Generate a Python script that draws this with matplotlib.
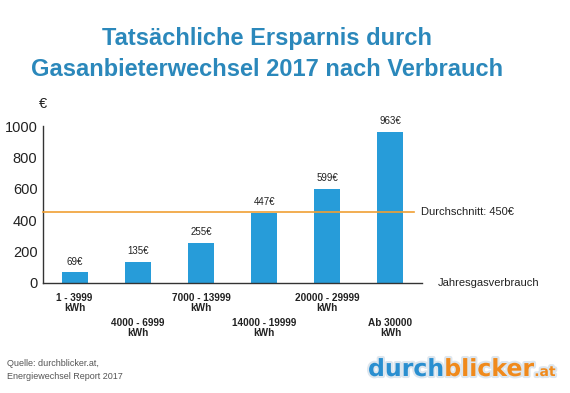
import matplotlib
matplotlib.use("Agg")
import matplotlib.pyplot as plt
import matplotlib.patheffects as pe

categories = ["1 - 3999\nkWh", "4000 - 6999\nkWh", "7000 - 13999\nkWh",
              "14000 - 19999\nkWh", "20000 - 29999\nkWh", "Ab 30000\nkWh"]
values = [69, 135, 255, 447, 599, 963]
value_labels = ["69€", "135€", "255€", "447€", "599€", "963€"]
average = 450
yticks = [0, 200, 400, 600, 800, 1000]

BLUE = "#279cd9"
ORANGE = "#f0a033"
TITLE = "#2b88bb"
DARK = "#222222"

fig = plt.figure(figsize=(5.7, 3.93), dpi=100)
fig.patch.set_facecolor("white")
W, H = 570, 393
ax = fig.add_axes([43 / W, 1 - 283 / H, (422 - 43) / W, (283 - 126) / H])

x = list(range(len(values)))
ax.bar(x, values, width=0.41, color=BLUE, zorder=2)
ax.set_xlim(-0.5, 5.5)
ax.set_ylim(0, 1000)
ax.set_yticks(yticks)
ax.set_yticklabels([str(v) for v in yticks], fontsize=10.5, family="Liberation Sans", color=DARK)
ax.tick_params(axis="y", length=0, pad=4)
ax.set_xticks([])
for s in ["top", "right"]:
    ax.spines[s].set_visible(False)
ax.spines["left"].set_color("#333333")
ax.spines["bottom"].set_color("#333333")
ax.spines["left"].set_linewidth(1.0)
ax.spines["bottom"].set_linewidth(1.0)

# average line
ax.plot([-0.5, 5.37], [average, average], color=ORANGE, lw=1.2, zorder=3, clip_on=False)
ax.text(5.48, average, "Durchschnitt: 450€", fontsize=8, family="Liberation Sans",
        color=DARK, va="center", ha="left")
ax.text(5.75, 0, "Jahresgasverbrauch", fontsize=8, family="Liberation Sans",
        color=DARK, va="center", ha="left")

for xi, v, lab in zip(x, values, value_labels):
    ax.annotate(lab, (xi, v), xytext=(0, 4), textcoords="offset points",
                ha="center", va="bottom", fontsize=7, family="Liberation Sans", color=DARK)

for i, lab in enumerate(categories):
    off = -10 if i % 2 == 0 else -35
    ax.annotate(lab, (i, 0), xytext=(0, off), textcoords="offset pixels",
                ha="center", va="top", fontsize=7.2, fontweight="bold",
                family="Liberation Sans", color=DARK, linespacing=1.0)

# euro sign
fig.text(43 / W, 1 - 104 / H, "€", fontsize=10.5, family="Liberation Sans",
         color=DARK, ha="center", va="center")

# title
fig.text(267 / W, 1 - 54 / H, "Tatsächliche Ersparnis durch\nGasanbieterwechsel 2017 nach Verbrauch",
         fontsize=17, family="Liberation Sans", fontweight="bold", color=TITLE,
         ha="center", va="center", linespacing=1.45)

# source
fig.text(7 / W, 1 - 370 / H, "Quelle: durchblicker.at,\nEnergiewechsel Report 2017",
         fontsize=6.5, family="Liberation Sans", color="#555555", ha="left", va="center",
         linespacing=1.45)

# logo
outline = [pe.withStroke(linewidth=3, foreground="#dde6ee")]
base_y = 1 - 376 / H
t1 = fig.text(368 / W, base_y, "durch", fontsize=17, fontweight="heavy",
              family="DejaVu Sans", color="#2a8fd0", ha="left", va="baseline",
              path_effects=outline)
fig.canvas.draw()
bb = t1.get_window_extent()
t2 = fig.text(bb.x1 / W, base_y, "blicker", fontsize=17, fontweight="heavy",
              family="DejaVu Sans", color="#f08a1c", ha="left", va="baseline",
              path_effects=outline)
fig.canvas.draw()
bb2 = t2.get_window_extent()
fig.text(bb2.x1 / W, base_y, ".at", fontsize=10, fontweight="bold",
         family="DejaVu Sans", color="#f08a1c", ha="left", va="baseline",
         path_effects=outline)

fig.savefig("out.png", dpi=100, facecolor="white")
